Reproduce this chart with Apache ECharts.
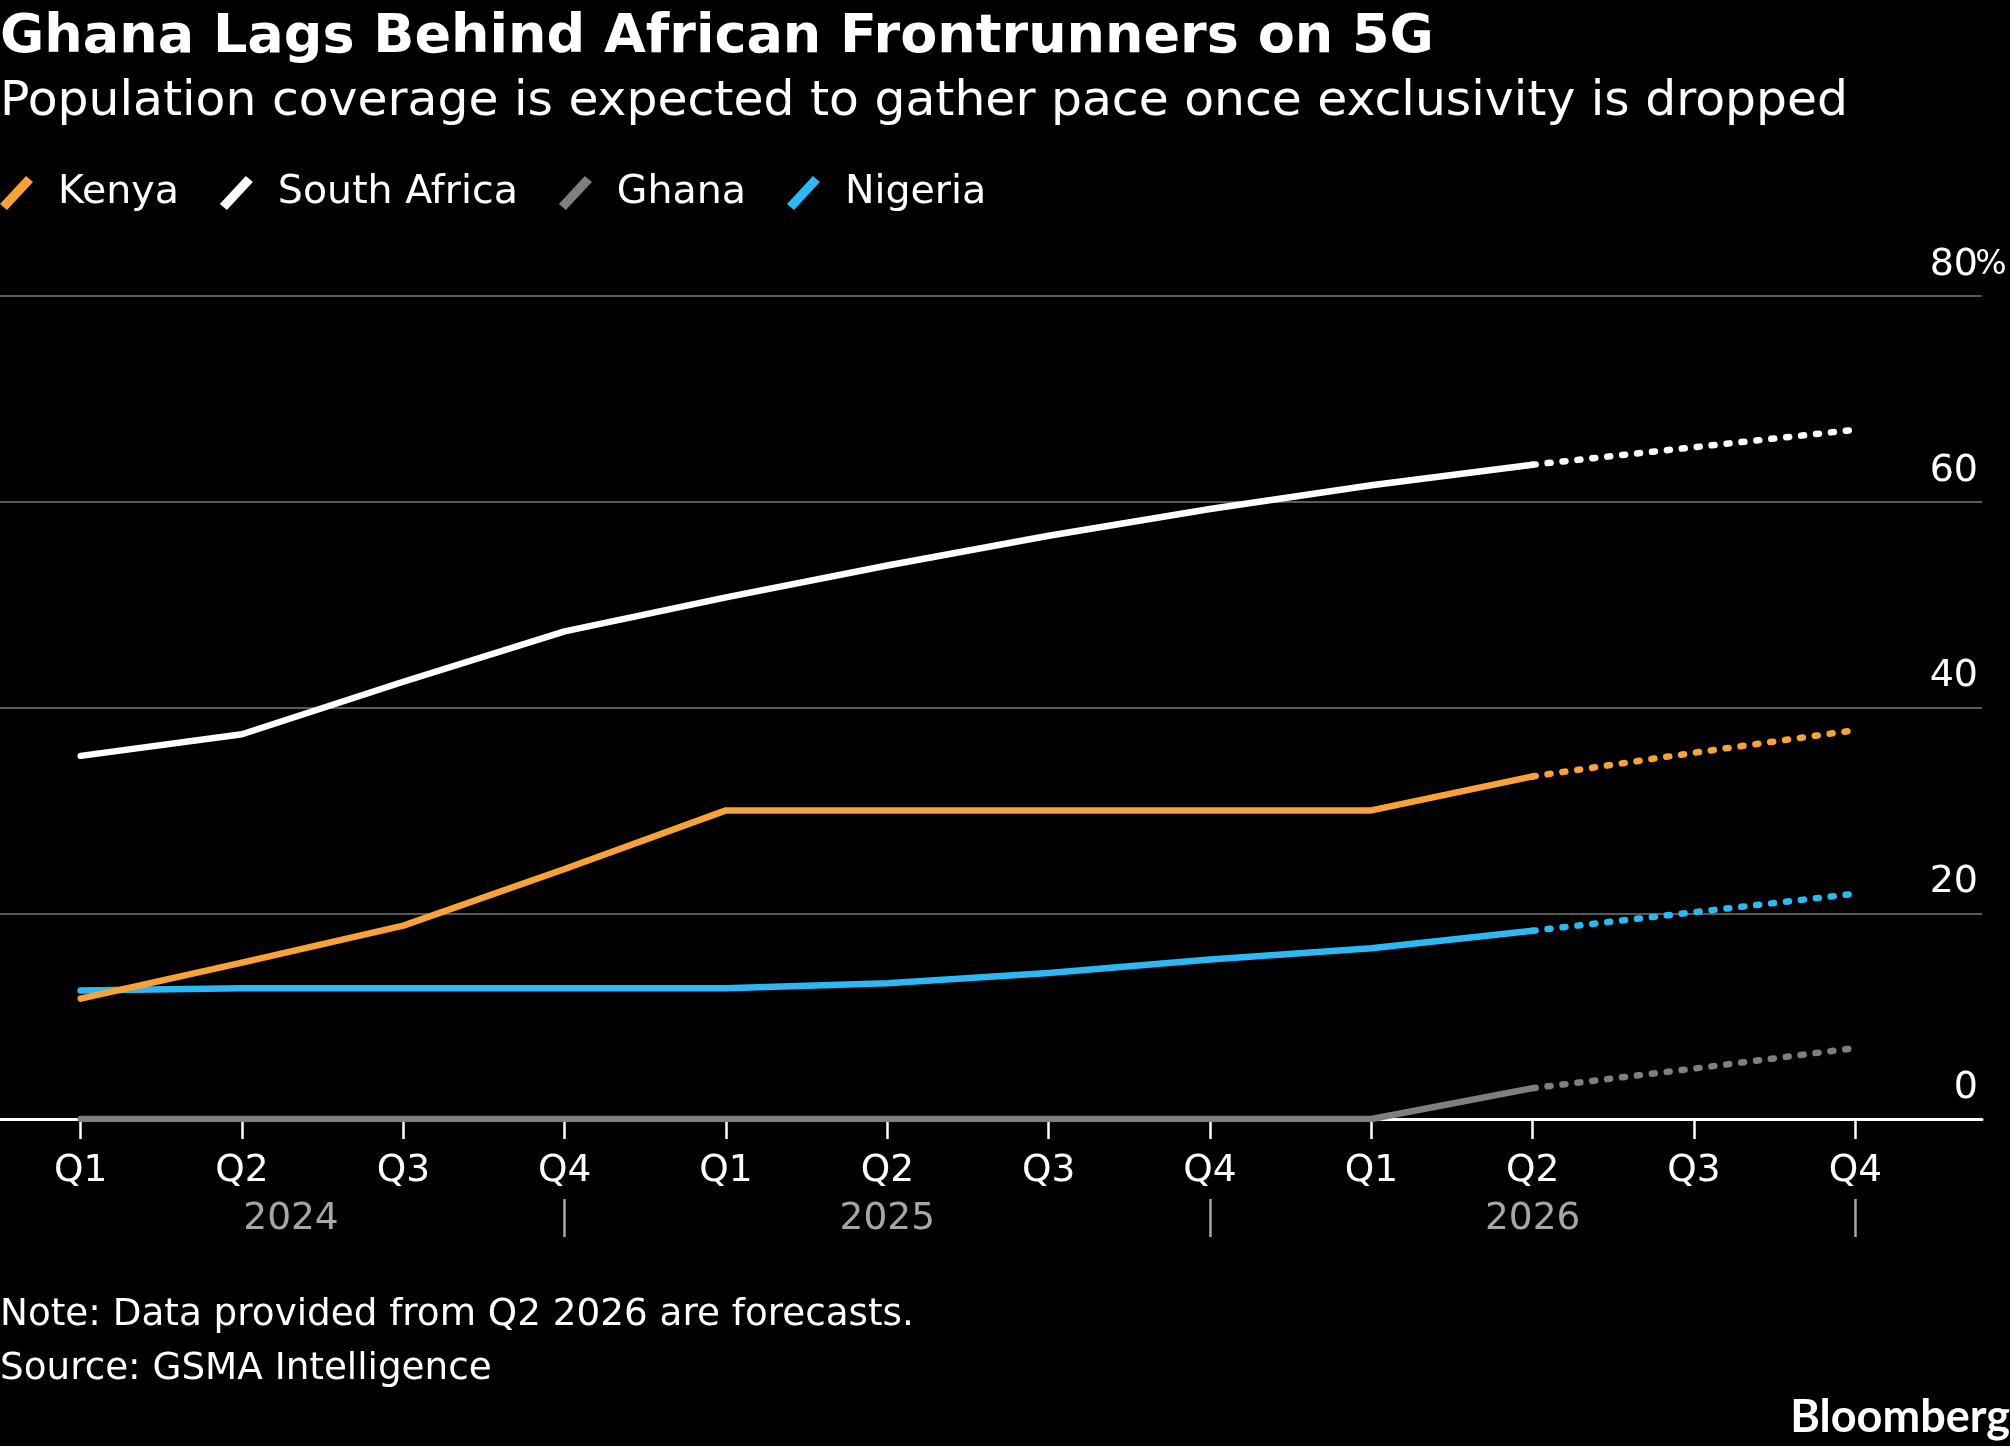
<!DOCTYPE html>
<html>
<head>
<meta charset="utf-8">
<script src="https://cdn.jsdelivr.net/npm/echarts@6/dist/echarts.min.js"></script>
<style>
html,body{margin:0;padding:0;background:#000;}
#chart{width:2010px;height:1446px;}
</style>
</head>
<body>
<div id="chart"></div>
<script>
const quarters = ['Q1','Q2','Q3','Q4','Q1','Q2','Q3','Q4','Q1','Q2','Q3','Q4'];
const years = ['2024','2025','2026'];
const kenya = [11.7,15.2,18.8,24.3,30.0,30.0,30.0,30.0,30.0,33.3,35.6,37.8];
const southAfrica = [35.3,37.4,42.5,47.4,50.7,53.8,56.7,59.3,61.6,63.6,65.3,67.0];
const ghana = [0,0,0,0,0,0,0,0,0,3.0,4.9,6.9];
const nigeria = [12.5,12.7,12.7,12.7,12.7,13.2,14.2,15.5,16.6,18.3,20.1,21.9];
const forecastFrom = 9;
const yMin = 0, yMax = 80, yStep = 20;

const FONT = 'DejaVu Sans';
const colors = { Kenya:'#f9a23a', 'South Africa':'#ffffff', Ghana:'#7f7f7f', Nigeria:'#2db8f4' };

function solid(arr){ return arr.map((v,i)=> i<=forecastFrom ? v : null); }
function dotted(arr){ return arr.map((v,i)=> i>=forecastFrom ? v : null); }

function mk(name, arr){
  const c = colors[name];
  return [
    { name, type:'line', xAxisIndex:1, yAxisIndex:1, data: solid(arr), color:c,
      showSymbol:false, symbol:'none', silent:true, connectNulls:false,
      lineStyle:{ color:c, width:6.5, cap:'round', join:'round' } },
    { name, type:'line', xAxisIndex:1, yAxisIndex:1, data: dotted(arr), color:c,
      showSymbol:false, symbol:'none', silent:true, connectNulls:false,
      lineStyle:{ color:c, width:6.5, type:[3,12], cap:'round' } }
  ];
}

const chart = echarts.init(document.getElementById('chart'), null, {renderer:'canvas'});
const option = {
  backgroundColor:'#000',
  animation:false,
  title:[
    { text:'Ghana Lags Behind African Frontrunners on 5G', left:0, top:11,
      textStyle:{ color:'#fff', fontFamily:FONT, fontWeight:'bold', fontSize:54 } , padding:0},
    { text:'Population coverage is expected to gather pace once exclusivity is dropped', left:0, top:78,
      textStyle:{ color:'#fff', fontFamily:FONT, fontWeight:'normal', fontSize:48.8 }, padding:0 },
    { text:'Note: Data provided from Q2 2026 are forecasts.', left:0, top:1297,
      textStyle:{ color:'#fff', fontFamily:FONT, fontWeight:'normal', fontSize:37.3 }, padding:0 },
    { text:'Source: GSMA Intelligence', left:0, top:1351,
      textStyle:{ color:'#fff', fontFamily:FONT, fontWeight:'normal', fontSize:37.3 }, padding:0 },
    { text:'Bloomberg', right:0, top:1395,
      textStyle:{ color:'#fff', fontFamily:'Lato', fontWeight:'bold', fontSize:45 }, padding:0 }
  ],
  legend:{
    data:['Kenya','South Africa','Ghana','Nigeria'],
    left:0, top:173, padding:0,
    icon:'path://M26,0 L33,6 L7,34 L0,28 Z',
    itemWidth:33, itemHeight:34, itemGap:41,
    selectedMode:false,
    textStyle:{ color:'#fff', fontFamily:FONT, fontSize:39.5, padding:[0,0,0,20] }
  },
  grid:[
    { left:0, right:28, top:296, bottom:327, containLabel:false },
    { left:0, width:1936, top:296, bottom:327, containLabel:false }
  ],
  xAxis:[
    { type:'value', gridIndex:0, min:0, max:1, show:true,
      axisLine:{ show:true, lineStyle:{ color:'#fff', width:3 } },
      axisTick:{ show:false }, axisLabel:{ show:false }, splitLine:{ show:false } },
    { type:'category', gridIndex:1, data:quarters, boundaryGap:true,
      axisLine:{ show:false },
      axisTick:{ show:true, alignWithLabel:true, length:20, interval:0, lineStyle:{ color:'#fff', width:2.5 } },
      axisLabel:{ show:true, interval:0, color:'#fff', fontFamily:FONT, fontSize:37.5, margin:33 },
      splitLine:{ show:false } },
    { type:'category', gridIndex:1, data:quarters, boundaryGap:true, position:'bottom', offset:80,
      axisLine:{ show:false },
      axisTick:{ show:true, alignWithLabel:true, length:38,
        interval:(i)=> i%4===3, lineStyle:{ color:'#a6a6a6', width:2.5 } },
      axisLabel:{ show:true, interval:(i)=> i%4===1, color:'#a6a6a6', fontFamily:FONT, fontSize:37.5, margin:1,
        formatter:(v,i)=> i===1 ? '{s|' + years[0] + '}' : years[Math.floor(i/4)],
        rich:{ s:{ color:'#a6a6a6', fontFamily:FONT, fontSize:37.5, padding:[0,0,0,98] } } },
      splitLine:{ show:false } }
  ],
  yAxis:[
    { type:'value', gridIndex:0, min:yMin, max:yMax, interval:yStep, position:'right',
      axisLine:{ show:false }, axisTick:{ show:false },
      splitLine:{ show:true, lineStyle:{ color:'#5a5a5a', width:2 } },
      axisLabel:{ show:true, align:'right', margin:22, verticalAlign:'bottom', padding:[0,0,12,0],
        showMinLabel:true, showMaxLabel:true,
        color:'#fff', fontFamily:FONT, fontSize:38,
        formatter:(v)=> v===yMax ? '{n|' + v + '}{p|%}' : '{n|' + v + '}{p| }',
        rich:{ n:{ color:'#fff', fontFamily:FONT, fontSize:38 },
               p:{ color:'#fff', fontFamily:FONT, fontSize:33, width:26, align:'left' } } } },
    { type:'value', gridIndex:1, min:yMin, max:yMax, interval:yStep, show:false }
  ],
  series:[].concat(
    mk('Nigeria', nigeria),
    mk('Ghana', ghana),
    mk('South Africa', southAfrica),
    mk('Kenya', kenya)
  )
};
chart.setOption(option);
</script>
</body>
</html>
